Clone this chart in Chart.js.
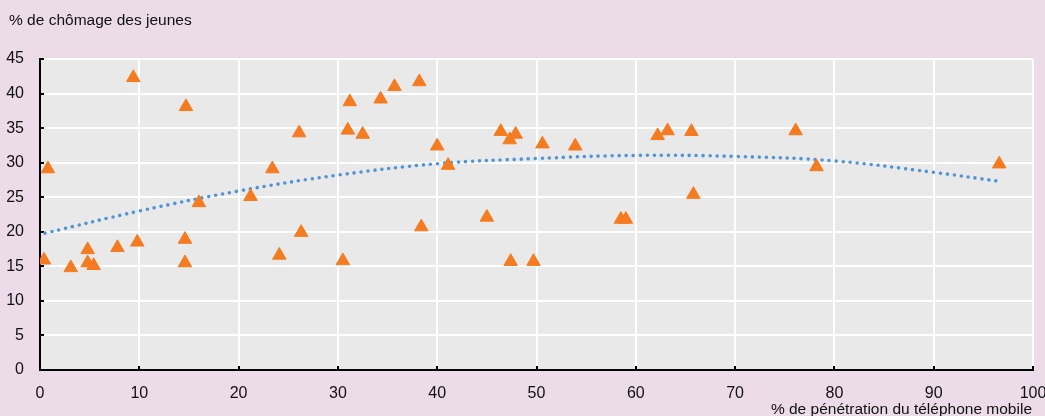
<!DOCTYPE html>
<html>
<head>
<meta charset="utf-8">
<script src="https://cdn.jsdelivr.net/npm/chart.js@4/dist/chart.umd.min.js"></script>
<style>
  html, body { margin: 0; padding: 0; background: #ecdbe8; }
  canvas { display: block; }
</style>
</head>
<body>
<canvas id="chart" width="1045" height="416"></canvas>
<script>
// % de pénétration du téléphone mobile (x) / % de chômage des jeunes (y)
const penetration = [0.4, 0.8, 3.1, 4.8, 4.8, 5.4, 7.8, 9.4, 9.8, 14.6, 14.6, 14.7, 16.0, 21.2, 23.4, 24.1, 26.1, 26.3,
  30.5, 31.0, 31.2, 32.5, 34.3, 35.7, 38.2, 38.4, 40.0, 41.1, 45.0, 46.4, 47.3, 47.4, 47.9, 49.7, 50.6, 53.9,
  58.5, 59.0, 62.2, 63.2, 65.6, 65.8, 76.1, 78.2, 96.6];
const chomage = [15.9, 29.1, 14.8, 17.4, 15.5, 15.1, 17.7, 42.3, 18.5, 18.9, 15.5, 38.1, 24.2, 25.1, 29.1, 16.6, 34.3, 19.9,
  15.8, 34.7, 38.8, 34.1, 39.2, 41.0, 41.7, 20.7, 32.4, 29.6, 22.1, 34.5, 33.3, 15.7, 34.1, 15.7, 32.7, 32.4,
  21.8, 21.8, 33.9, 34.6, 34.5, 25.4, 34.6, 29.4, 29.8];

// tendance (polynomiale)
const trendX = [0.5, 10, 20, 30, 40, 50, 60, 70, 80, 90, 96.6];
const trendY = [19.8, 23.0, 25.9, 28.2, 29.85, 30.6, 31.05, 30.9, 30.25, 28.6, 27.3];

const xTicks = [0, 10, 20, 30, 40, 50, 60, 70, 80, 90, 100];
const yTicks = [0, 5, 10, 15, 20, 25, 30, 35, 40, 45];

const yTitle = "% de chômage des jeunes";
const xTitle = "% de pénétration du téléphone mobile";

const FONT = "'Liberation Sans', Arial, sans-serif";

const decor = {
  id: "decor",
  beforeDraw(chart) {
    const { ctx, chartArea: a } = chart;
    ctx.save();
    ctx.fillStyle = "#e9e9e9";
    ctx.fillRect(a.left, a.top, a.right - a.left, a.bottom - a.top);
    ctx.restore();
  },
  afterDraw(chart) {
    const { ctx, chartArea: a } = chart;
    ctx.save();
    ctx.fillStyle = "#111111";
    ctx.font = "15.5px " + FONT;
    ctx.textBaseline = "alphabetic";
    ctx.textAlign = "left";
    ctx.fillText(yTitle, 9, 25);
    ctx.textAlign = "right";
    ctx.fillText(xTitle, a.right - 1, 414);
    ctx.restore();
  }
};

new Chart(document.getElementById("chart"), {
  type: "scatter",
  data: {
    datasets: [
      {
        label: "Pays",
        data: penetration.map((x, i) => ({ x, y: chomage[i] })),
        pointStyle: "triangle",
        pointRadius: 7.8,
        pointBorderWidth: 1,
        backgroundColor: "#f47b20",
        borderColor: "#f47b20",
        order: 1
      },
      {
        label: "Tendance",
        type: "line",
        data: trendX.map((x, i) => ({ x, y: trendY[i] })),
        borderColor: "#4f94d9",
        borderWidth: 3.6,
        borderDash: [0, 7],
        borderCapStyle: "round",
        tension: 0.4,
        pointRadius: 0,
        fill: false,
        order: 2
      }
    ]
  },
  options: {
    responsive: false,
    animation: false,
    layout: { padding: { top: 59, right: 12, left: 0, bottom: 0 } },
    plugins: {
      legend: { display: false },
      tooltip: { enabled: false }
    },
    scales: {
      x: {
        type: "linear",
        min: 0,
        max: 100,
        afterFit(scale) {
          scale.height = 46;
          scale.paddingLeft = 0;
          scale.paddingRight = 0;
        },
        afterBuildTicks(scale) { scale.ticks = xTicks.map((v) => ({ value: v })); },
        grid: { color: "#ffffff", lineWidth: 2, tickLength: -4, tickColor: "#000000", tickWidth: 2 },
        border: { display: true, color: "#000000", width: 2 },
        ticks: { padding: 18, color: "#111111", font: { family: FONT, size: 16 } }
      },
      y: {
        min: 0,
        max: 45,
        afterFit(scale) {
          scale.width = 40;
          scale.paddingTop = 0;
          scale.paddingBottom = 0;
        },
        afterBuildTicks(scale) { scale.ticks = yTicks.map((v) => ({ value: v })); },
        grid: { color: "#ffffff", lineWidth: 2, tickLength: -4, tickColor: "#000000", tickWidth: 2 },
        border: { display: true, color: "#000000", width: 2 },
        ticks: { padding: 20, color: "#111111", font: { family: FONT, size: 16 } }
      }
    }
  },
  plugins: [decor]
});
</script>
</body>
</html>
